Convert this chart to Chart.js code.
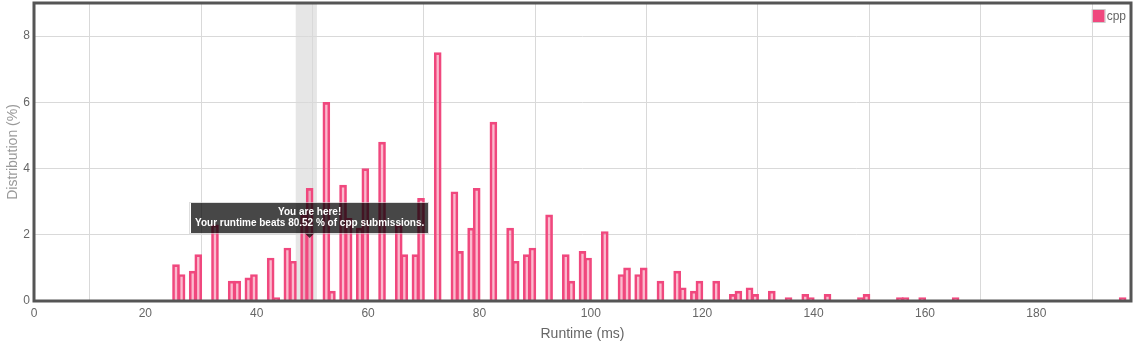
<!DOCTYPE html>
<html>
<head>
<meta charset="utf-8">
<script src="https://cdn.jsdelivr.net/npm/chart.js@4.4.0/dist/chart.umd.min.js"></script>
<style>
  html, body { margin: 0; padding: 0; background: #fff; }
  #wrap { width: 1134px; height: 343px; position: relative; }
</style>
</head>
<body>
<div id="wrap"><canvas id="chartRuntime"></canvas></div>
<script>
// runtime bins (ms) and share of submissions (%)
const runtimes = [25, 26, 28, 29, 32, 35, 36, 38, 39, 42, 43, 45, 46, 48, 49, 52, 53, 55, 56, 58,
    59, 62, 65, 66, 68, 69, 72, 75, 76, 78, 79, 82, 85, 86, 88, 89, 92, 95, 96, 98,
    99, 102, 105, 106, 108, 109, 112, 115, 116, 118, 119, 122, 125, 126, 128, 129, 132, 135, 138, 139,
    142, 148, 149, 155, 156, 159, 165, 195];
const distribution = [1.1, 0.8, 0.9, 1.4, 2.3, 0.6, 0.6, 0.7, 0.8, 1.3, 0.1, 1.6, 1.2, 2.6, 3.4, 6.0, 0.3, 3.5, 2.5, 2.2,
    4.0, 4.8, 2.3, 1.4, 1.4, 3.1, 7.5, 3.3, 1.5, 2.2, 3.4, 5.4, 2.2, 1.2, 1.4, 1.6, 2.6, 1.4, 0.6, 1.5,
    1.3, 2.1, 0.8, 1.0, 0.8, 1.0, 0.6, 0.9, 0.4, 0.3, 0.6, 0.6, 0.2, 0.3, 0.4, 0.2, 0.3, 0.1, 0.2, 0.1,
    0.2, 0.1, 0.2, 0.1, 0.1, 0.1, 0.1, 0.1];
const xTicks = [0, 20, 40, 60, 80, 100, 120, 140, 160, 180];
const yTicks = [0, 2, 4, 6, 8];
const xMax = 197;
const yMax = 9;
const seriesName = "cpp";

// "you are here" marker
const hereBand = [47, 50.8];
const herePoint = { x: 49.5, y: 1.9 };
const hereLines = ["You are here!", "Your runtime beats 80.52 % of cpp submissions."];

const FONT = "'Liberation Sans', Arial, Helvetica, sans-serif";
const PINK = "#f0487e";

// grey band behind the bars (under the grid)
const bandPlugin = {
    id: "band",
    beforeDraw(chart) {
        const { ctx, chartArea, scales } = chart;
        const x1 = scales.x.getPixelForValue(hereBand[0]);
        const x2 = scales.x.getPixelForValue(hereBand[1]);
        ctx.save();
        ctx.fillStyle = "#e6e6e6";
        ctx.fillRect(x1, chartArea.top, x2 - x1, chartArea.bottom - chartArea.top);
        ctx.restore();
    }
};

// dark frame, legend in the corner, and the "you are here" box
const framePlugin = {
    id: "frame",
    afterDatasetsDraw(chart) {
        const { ctx, chartArea: a, scales } = chart;
        ctx.save();
        ctx.strokeStyle = "#555";
        ctx.lineWidth = 3;
        ctx.strokeRect(a.left, a.top, a.right - a.left, a.bottom - a.top);

        // legend
        ctx.font = "12px " + FONT;
        const tw = ctx.measureText(seriesName).width;
        const lx = a.right - 5 - tw - 14;
        const ly = a.top + 7;
        ctx.fillStyle = PINK;
        ctx.fillRect(lx, ly, 12, 12);
        ctx.strokeStyle = "#ccc";
        ctx.lineWidth = 1;
        ctx.strokeRect(lx - 0.5, ly - 0.5, 13, 13);
        ctx.fillStyle = "#666";
        ctx.textBaseline = "middle";
        ctx.fillText(seriesName, lx + 14, ly + 6.5);

        // tooltip box
        const px = scales.x.getPixelForValue(herePoint.x);
        const py = scales.y.getPixelForValue(herePoint.y);
        ctx.font = "bold 10px " + FONT;
        const w = Math.round(Math.max(...hereLines.map(t => ctx.measureText(t).width)) + 8);
        const h = 30;
        const bx = Math.round(px - w / 2);
        const by = Math.round(py - 5 - h);
        ctx.fillStyle = "rgba(0,0,0,0.72)";
        ctx.fillRect(bx, by, w, h);
        ctx.beginPath();
        ctx.moveTo(px - 5, by + h);
        ctx.lineTo(px + 5, by + h);
        ctx.lineTo(px, by + h + 5);
        ctx.closePath();
        ctx.fill();
        ctx.strokeStyle = "rgba(200,200,200,0.6)";
        ctx.lineWidth = 1;
        ctx.strokeRect(bx - 1.5, by - 0.5, w + 2, h + 1);
        ctx.fillStyle = "#fff";
        ctx.textAlign = "center";
        ctx.textBaseline = "middle";
        ctx.fillText(hereLines[0], px, by + 9);
        ctx.fillText(hereLines[1], px, by + 20);
        ctx.restore();
    }
};

const chartCtx = document.getElementById("chartRuntime").getContext("2d");

const chart = new Chart(chartCtx, {
    type: "bar",
    data: {
        datasets: [
            {
                label: seriesName,
                data: runtimes.map((r, i) => ({ x: r + 0.5, y: distribution[i] })),
                backgroundColor: "rgba(245, 73, 127, 0.38)",
                borderColor: PINK,
                borderWidth: 2,
                borderSkipped: "bottom",
                barThickness: 7
            }
        ]
    },
    options: {
        responsive: true,
        maintainAspectRatio: false,
        animation: false,
        layout: { autoPadding: false, padding: { top: 3, right: 3, left: 0, bottom: 0 } },
        plugins: {
            legend: { display: false },
            tooltip: { enabled: false }
        },
        scales: {
            x: {
                type: "linear",
                min: 0,
                max: xMax,
                offset: false,
                afterBuildTicks: s => { s.ticks = xTicks.map(v => ({ value: v })); },
                ticks: { color: "#666", font: { family: FONT, size: 12 }, padding: 5, maxRotation: 0 },
                grid: { color: "#d9d9d9", drawTicks: false },
                border: { display: false },
                title: { display: true, text: "Runtime (ms)", color: "#666", font: { family: FONT, size: 14 }, padding: { top: 9, bottom: 0 } },
                afterFit: s => { s.height = 42; s.paddingLeft = 0; s.paddingRight = 0; }
            },
            y: {
                min: 0,
                max: yMax,
                afterBuildTicks: s => { s.ticks = yTicks.map(v => ({ value: v })); },
                ticks: { color: "#666", font: { family: FONT, size: 12 }, padding: 4 },
                grid: { color: "#d9d9d9", drawTicks: false },
                border: { display: false },
                title: { display: true, text: "Distribution (%)", color: "#999", font: { family: FONT, size: 14 }, padding: { top: 5, bottom: 0 } },
                afterFit: s => { s.width = 34; s.paddingTop = 0; s.paddingBottom = 0; }
            }
        }
    },
    plugins: [bandPlugin, framePlugin]
});
</script>
</body>
</html>
